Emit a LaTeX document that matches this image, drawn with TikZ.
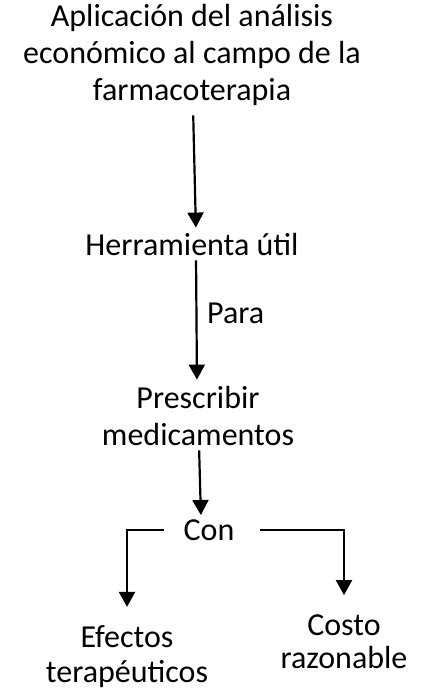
\documentclass[tikz,border=0pt]{standalone}
\usepackage{fontspec}
\setmainfont{Carlito}
\usetikzlibrary{arrows.meta}
\begin{document}
\begin{tikzpicture}[x=1pt,y=-1pt,
  lbl/.style={inner sep=0pt,align=center,font=\fontsize{32}{37}\selectfont},
  arr/.style={line width=2.2pt,-{Triangle[width=16pt,length=15pt]}}]
\useasboundingbox (0,0) rectangle (436,692);
\node[lbl,anchor=base] (title) at (192,101) {Aplicación del análisis\\económico al campo de la\\farmacoterapia};
\node[lbl,anchor=base] (herr) at (192,255) {Herramienta útil};
\node[lbl,anchor=base west] (para) at (207,323) {Para};
\node[lbl,anchor=base] (presc) at (198,445) {Prescribir\\medicamentos};
\node[lbl,anchor=base] (con) at (209,540) {Con};
\node[lbl,anchor=base,font=\fontsize{32}{35}\selectfont] (efec) at (127,682) {Efectos\\terapéuticos};
\node[lbl,anchor=base,font=\fontsize{32}{33}\selectfont] (costo) at (344,668) {Costo\\razonable};
\draw[arr,shorten <=9pt,shorten >=5pt] ([xshift=1pt]title.south) -- ([xshift=4pt]herr.north);
\draw[arr,shorten <=5pt,shorten >=6pt] ([xshift=4pt]herr.south) -- ([xshift=-1pt]presc.north);
\draw[arr,shorten <=5pt,shorten >=4pt] ([xshift=1pt]presc.south) -- ([xshift=-8pt]con.north);
\draw[arr,shorten <=19pt,shorten >=18pt] (con.west) -| (efec.north);
\draw[arr,shorten <=25pt,shorten >=19pt] (con.east) -| (costo.north);
\end{tikzpicture}
\end{document}
